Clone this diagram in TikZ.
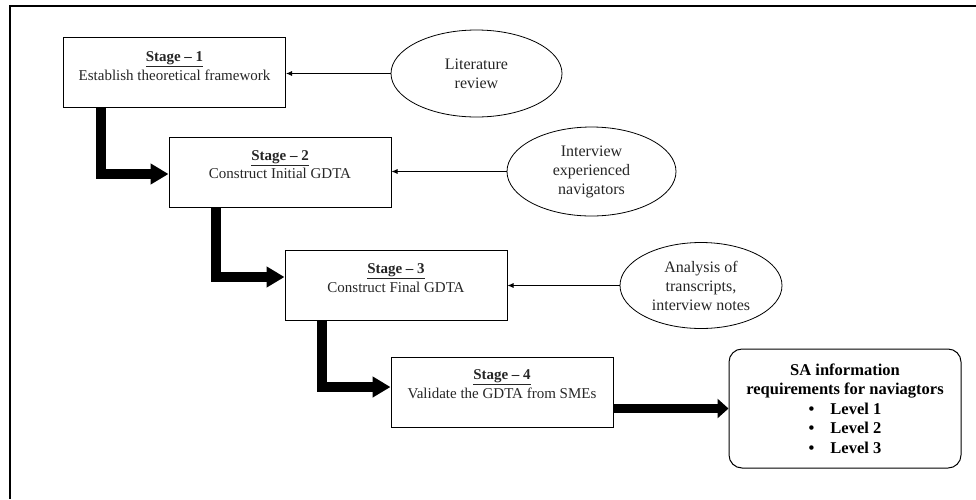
\documentclass[tikz,border=0pt]{standalone}
\usepackage{fontspec}
\setmainfont{Liberation Serif}
\usetikzlibrary{shapes.geometric,arrows.meta}

\begin{document}
\begin{tikzpicture}[x=1pt,y=-1pt,
  stagebox/.style={draw, line width=1pt, minimum width=222pt, minimum height=70pt, inner sep=0pt},
  stagetext/.style={align=center, inner sep=0pt, text=black!85, font=\fontsize{15}{18.5}\selectfont},
  source/.style={draw, ellipse, line width=0.8pt, inner sep=0pt, align=center, text=black!85, font=\fontsize{16}{19}\selectfont},
  outcome/.style={draw, rounded corners=13pt, line width=1pt, minimum width=232pt, minimum height=119pt, align=center, font=\bfseries\fontsize{16.5}{19.5}\selectfont},
  feed/.style={-{Latex[length=6pt,width=5pt]}, line width=0.8pt},
  flow/.style={-{Triangle[length=18pt,width=20pt]}, line width=10pt, line join=miter},
]
\useasboundingbox (0,0) rectangle (976,499);
% frame
\draw[line width=1.3pt] (976,6) -- (10,6) -- (10,499);

% stages
\node[stagebox] (s1) at (174.5,72) {};
\node[stagetext] (t1) at ([yshift=6pt]s1.center) {\underline{\textbf{Stage -- 1}}\\Establish theoretical framework};
\node[stagebox] (s2) at (280,172) {};
\node[stagetext] (t2) at ([yshift=7.5pt]s2.center) {\underline{\textbf{Stage -- 2}}\\Construct Initial GDTA};
\node[stagebox] (s3) at (396,285) {};
\node[stagetext] (t3) at ([yshift=7pt]s3.center) {\underline{\textbf{Stage -- 3}}\\Construct Final GDTA};
\node[stagebox] (s4) at (502,392) {};
\node[stagetext] (t4) at ([yshift=8pt]s4.center) {\underline{\textbf{Stage -- 4}}\\Validate the GDTA from SMEs};

% inputs
\node[source, minimum width=171pt, minimum height=87pt] (lit) at (476.5,73.5) {Literature\\review};
\node[source, minimum width=169pt, minimum height=89pt] (int) at (591.5,171.5) {Interview\\experienced\\navigators};
\node[source, minimum width=162pt, minimum height=86pt] (ana) at (701,285.5) {Analysis of\\transcripts,\\interview notes};

% result
\node[outcome] (sa) at (845,408.5) {SA information\\requirements for naviagtors\\\textbullet\hspace{16pt}Level 1\\\textbullet\hspace{16pt}Level 2\\\textbullet\hspace{16pt}Level 3};

\draw[feed] (lit.west) -- (lit.west -| s1.east);
\draw[feed] (int.west) -- (int.west -| s2.east);
\draw[feed] (ana.west) -- (ana.west -| s3.east);

\draw[flow] ([xshift=38pt]s1.south west) |- ([yshift=-2pt]s2.west);
\draw[flow] ([xshift=47pt]s2.south west) |- ([yshift=8pt]s3.west);
\draw[flow] ([xshift=37pt]s3.south west) |- ([yshift=5pt]s4.west);
\draw[flow, -{Triangle[length=11pt,width=19pt]}, line width=9.5pt] (s4.east |- sa.west) -- (sa.west);
\end{tikzpicture}
\end{document}
